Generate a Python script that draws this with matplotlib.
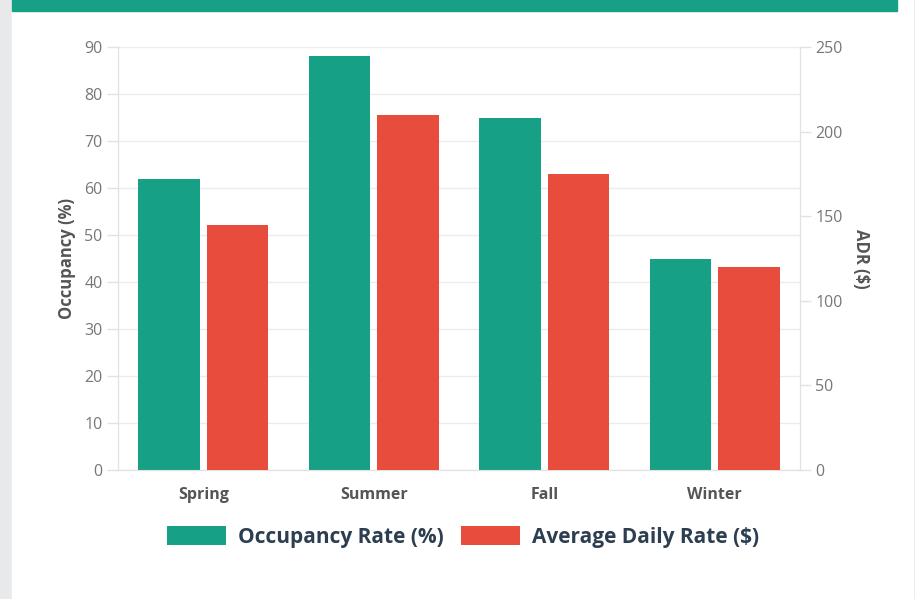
import numpy as np
import matplotlib
matplotlib.use("Agg")
import matplotlib.pyplot as plt
from matplotlib.patches import Patch, Rectangle

# chart data
seasons = ["Spring", "Summer", "Fall", "Winter"]
occupancy = [62, 88, 75, 45]
adr = [145, 210, 175, 120]

teal = "#16a085"
red = "#e74c3c"
grid_col = "#ececec"
tick_col = "#777777"

plt.rcParams['font.family'] = ['Open Sans', 'DejaVu Sans']

fig = plt.figure(figsize=(9.15, 5.99), dpi=100)
fig.patch.set_facecolor("#e8e9eb")

# white card and teal header strip
fig.add_artist(Rectangle((12 / 915, 0), (913 - 12) / 915, 1,
                         transform=fig.transFigure, color="white", zorder=0))
fig.add_artist(Rectangle((12 / 915, 1 - 11 / 599), (897 - 12) / 915, 11 / 599,
                         transform=fig.transFigure, color=teal, zorder=1))

ax = fig.add_axes([118 / 915, 1 - 470 / 599, (800 - 118) / 915, (470 - 47) / 599])
ax.set_facecolor("white")
ax2 = ax.twinx()

x = np.arange(len(seasons))
w = 0.36
ax.bar(x - 0.2, occupancy, w, color=teal, zorder=3)
ax2.bar(x + 0.2, adr, w, color=red, zorder=3)

ax.set_xlim(-0.5, 3.5)
ax.set_ylim(0, 90)
ax2.set_ylim(0, 250)
ax.set_yticks(range(0, 91, 10))
ax2.set_yticks(range(0, 251, 50))

ax.grid(axis="y", color=grid_col, linewidth=1, zorder=0)
ax.set_axisbelow(True)

for a in (ax, ax2):
    for s in a.spines.values():
        s.set_color("#e2e2e2")
    a.spines["top"].set_visible(False)
    a.tick_params(axis="y", colors="#e2e2e2", labelcolor=tick_col,
                  labelsize=11.5, length=8, width=1, pad=3)

ax.set_xticks(x)
ax.set_xticklabels(seasons, fontsize=11.5, fontweight="bold", color="#555555")
ax.tick_params(axis="x", length=0, pad=12)

ax.set_ylabel("Occupancy (%)", fontsize=12, fontweight="bold", color="#555555", labelpad=6)
ax2.set_ylabel("ADR ($)", fontsize=12, fontweight="bold", color="#555555",
               rotation=270, labelpad=20)

handles = [Patch(facecolor=teal, label="Occupancy Rate (%)"),
           Patch(facecolor=red, label="Average Daily Rate ($)")]
fig.legend(handles=handles, loc="center", bbox_to_anchor=(463 / 915, 1 - 537 / 599),
           ncol=2, frameon=False, handlelength=2.83, handleheight=0.96,
           handletextpad=0.58, columnspacing=0.82,
           prop={"size": 15, "weight": "bold"}, labelcolor="#2c3e50")

fig.savefig("out.png", dpi=100, facecolor=fig.get_facecolor())
